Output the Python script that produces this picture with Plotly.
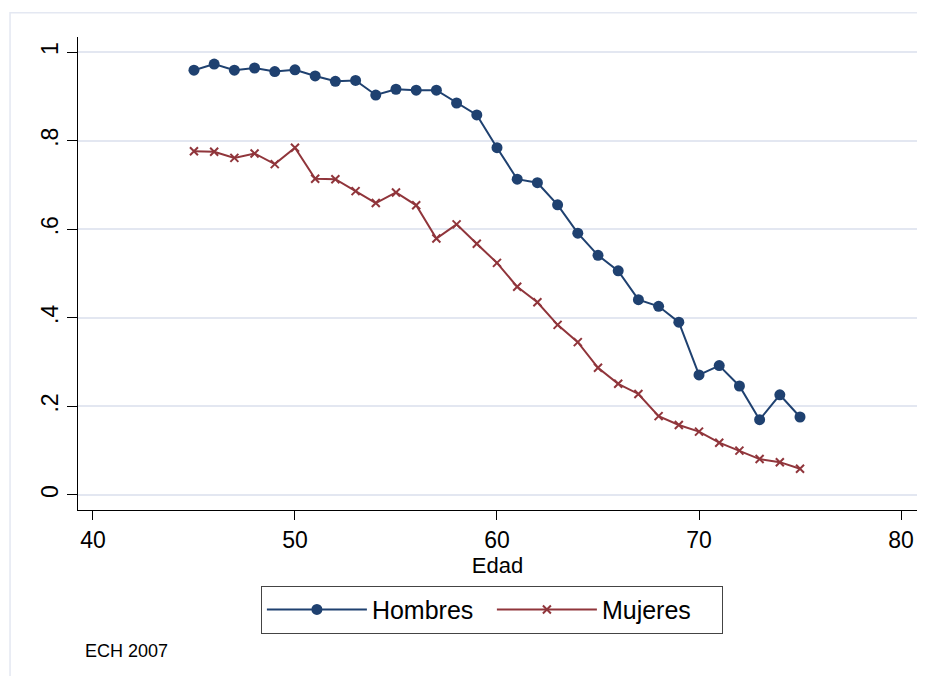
import plotly.graph_objects as go

edad = list(range(45, 76))
hombres = [0.959, 0.973, 0.959, 0.964, 0.956, 0.960, 0.946, 0.934, 0.936, 0.903,
           0.916, 0.914, 0.914, 0.885, 0.858, 0.784, 0.713, 0.705, 0.655, 0.591,
           0.541, 0.506, 0.441, 0.426, 0.390, 0.271, 0.292, 0.246, 0.170, 0.226, 0.176]
mujeres = [0.776, 0.775, 0.761, 0.771, 0.747, 0.784, 0.714, 0.713, 0.686, 0.659,
           0.683, 0.654, 0.579, 0.611, 0.567, 0.524, 0.470, 0.435, 0.384, 0.345,
           0.287, 0.251, 0.228, 0.178, 0.158, 0.143, 0.118, 0.100, 0.081, 0.074, 0.059]

x_ticks = [40, 50, 60, 70, 80]
y_ticks = [0, 0.2, 0.4, 0.6, 0.8, 1.0]
y_labels = ["0", ".2", ".4", ".6", ".8", "1"]

NAVY = "#1f4170"
MAROON = "#90353b"
FONT = "Liberation Sans, Arial, Helvetica, sans-serif"

fig = go.Figure()
fig.add_trace(go.Scatter(x=edad, y=hombres, mode="lines+markers", name="Hombres",
                         line=dict(color=NAVY, width=2),
                         marker=dict(symbol="circle", size=11, color=NAVY)))
fig.add_trace(go.Scatter(x=edad, y=mujeres, mode="lines+markers", name="Mujeres",
                         line=dict(color=MAROON, width=2),
                         marker=dict(symbol="x-thin", size=8, color=MAROON,
                                     line=dict(color=MAROON, width=2))))

fig.update_layout(
    width=917, height=668,
    margin=dict(l=70, r=8, t=29, b=166, autoexpand=False),
    paper_bgcolor="white", plot_bgcolor="white",
    font=dict(family=FONT, size=23, color="black"),
    showlegend=True,
    legend=dict(orientation="h", x=0.218, xanchor="left", y=-0.160, yanchor="top",
                bordercolor="#444444", borderwidth=1, bgcolor="white",
                font=dict(size=25), entrywidth=115, itemwidth=100,
                traceorder="normal"),
    xaxis=dict(range=[39.26, 80.79], tickvals=x_ticks, ticks="outside", ticklen=9,
               tickcolor="black", showline=True, linecolor="black", linewidth=1,
               showgrid=False, zeroline=False, automargin=False,
               title=dict(text="Edad", standoff=0, font=dict(size=22))),
    yaxis=dict(range=[-0.034, 1.034], tickvals=y_ticks, ticktext=y_labels,
               tickangle=-90, ticks="outside", ticklen=10, tickcolor="black",
               ticklabelstandoff=0,
               showline=True, linecolor="black", linewidth=1, automargin=False,
               showgrid=True, gridcolor="#e3e7f1", gridwidth=2, zeroline=False),
    annotations=[dict(text="ECH 2007", xref="paper", yref="paper", x=0.006, y=-0.298,
                      xanchor="left", yanchor="middle", showarrow=False,
                      font=dict(size=18, family=FONT))],
    shapes=[dict(type="rect", xref="paper", yref="paper", x0=-0.081, x1=1.02,
                 y0=-0.40, y1=1.0514, line=dict(color="#e4e8f2", width=1.5),
                 layer="below")],
)

fig.write_html("out.html")
